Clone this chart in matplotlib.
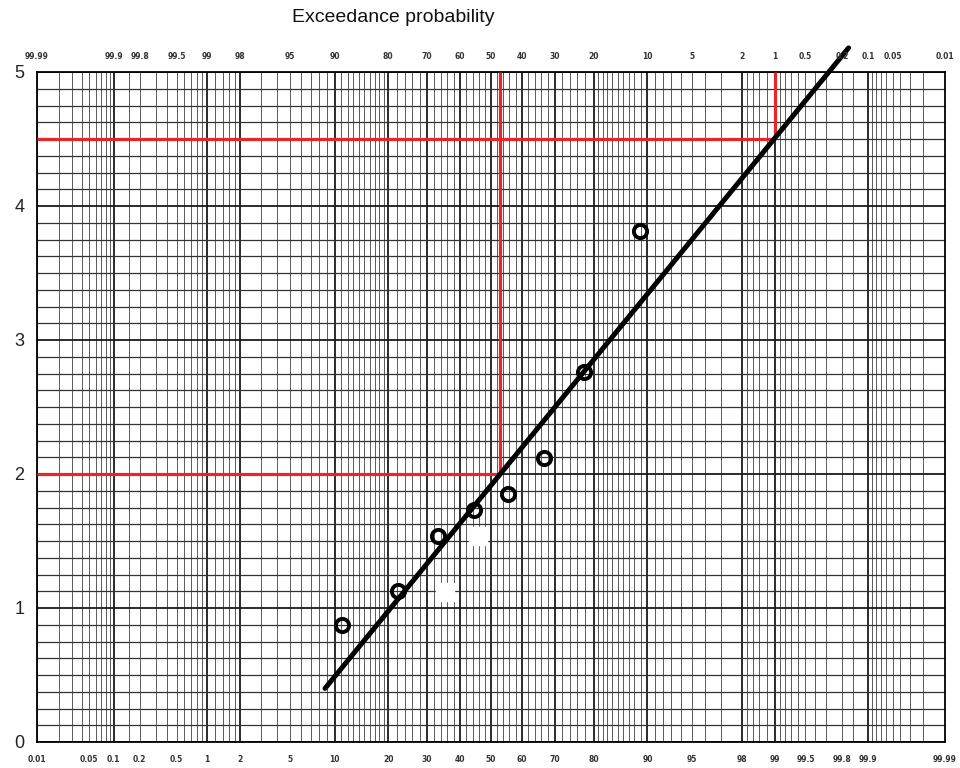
import numpy as np
import matplotlib
matplotlib.use("Agg")
import matplotlib.pyplot as plt
from statistics import NormalDist

# ---- data -------------------------------------------------------------
# non-exceedance probability (%) of the plotted observations
obs_p = [11.1, 22.2, 33.3, 44.4, 55.6, 66.7, 77.8, 88.9]
obs_y = [0.87, 1.13, 1.54, 1.73, 1.85, 2.12, 2.76, 3.81]

# erased marks (white patches on the scan)
erased_p = [35.3, 45.7]
erased_y = [1.12, 1.54]

# fitted straight line (end points)
fit_p = [8.7, 99.83]
fit_y = [0.40, 5.18]

# red read-off lines: level and probability where it meets the fit line
red_y = [2.0, 4.5]
red_p = [52.9, 99.0]

# tick labels
bottom_labels = [0.01, 0.05, 0.1, 0.2, 0.5, 1, 2, 5, 10, 20, 30, 40, 50,
                 60, 70, 80, 90, 95, 98, 99, 99.5, 99.8, 99.9, 99.99]
top_labels = [99.99, 99.9, 99.8, 99.5, 99, 98, 95, 90, 80, 70, 60, 50,
              40, 30, 20, 10, 5, 2, 1, 0.5, 0.2, 0.1, 0.05, 0.01]
y_ticks = [0, 1, 2, 3, 4, 5]

# probability-paper vertical rulings (%)
grid_p = (list(np.round(np.arange(0.01, 0.1001, 0.01), 2)) +
          [0.15, 0.2, 0.3, 0.4, 0.5, 0.6, 0.7, 0.8, 0.9, 1.0] +
          [1.2, 1.4, 1.6, 1.8, 2.0] +
          list(range(3, 10)) + list(range(10, 20)) +
          list(range(20, 80, 2)) + list(range(80, 90)) + list(range(90, 99)) +
          [98.2, 98.4, 98.6, 98.8, 99.0] +
          [99.1, 99.2, 99.3, 99.4, 99.5, 99.6, 99.7, 99.8, 99.85] +
          list(np.round(np.arange(99.9, 99.991, 0.01), 2)))
heavy_p = [0.1, 1, 2, 10, 20, 30, 40, 50, 60, 70, 80, 90, 98, 99, 99.9]

# ---- normal probability scale -----------------------------------------
nd = NormalDist()


def fwd(p):
    a = np.clip(np.asarray(p, dtype=float), 1e-7, 100 - 1e-7)
    out = np.array([nd.inv_cdf(v / 100.0) if np.isfinite(v) else np.nan
                    for v in a.ravel()])
    return out.reshape(a.shape)


def inv(z):
    a = np.asarray(z, dtype=float)
    out = np.array([nd.cdf(v) * 100.0 if np.isfinite(v) else np.nan
                    for v in a.ravel()])
    return out.reshape(a.shape)


fig = plt.figure(figsize=(9.6, 7.68), dpi=100)
ax = fig.add_axes([37 / 960, 1 - 742 / 768, (945 - 37) / 960, (742 - 72) / 768])
ax.set_xscale('function', functions=(fwd, inv))
ax.set_xlim(0.01, 99.99)
ax.set_ylim(0, 5)

# rulings
for p in grid_p:
    hv = any(abs(p - h) < 1e-9 for h in heavy_p)
    ax.axvline(p, color='#1a1a1a' if hv else '#5a5a5a',
               lw=1.3 if hv else 0.7, zorder=1)
for yv in np.arange(0, 5.001, 0.125):
    ax.axhline(yv, color='#1a1a1a' if abs(yv - round(yv)) < 1e-9 else '#333333',
               lw=1.3 if abs(yv - round(yv)) < 1e-9 else 0.9, zorder=1)

# red read-off lines
for yv, pv in zip(red_y, red_p):
    ax.plot([0.01, pv], [yv, yv], color='#e8262a', lw=2.3, zorder=3,
            solid_capstyle='butt')
    ax.plot([pv, pv], [yv, 5], color='#e8262a', lw=2.3, zorder=3,
            solid_capstyle='butt')

# erased patches
ax.plot(erased_p, erased_y, linestyle='none', marker='s', markersize=13,
        markerfacecolor='white', markeredgecolor='white', zorder=4)

# fit line
ax.plot(fit_p, fit_y, color='black', lw=3.6, solid_capstyle='round',
        zorder=5, clip_on=False)

# observations
ax.plot(obs_p, obs_y, linestyle='none', marker='o', markersize=9.5,
        markerfacecolor='none', markeredgecolor='black',
        markeredgewidth=2.8, zorder=6)

for s in ax.spines.values():
    s.set_color('black')
    s.set_linewidth(1.3)

tick_font = dict(fontsize=5.5, fontweight='bold', color='#333333',
                 family='DejaVu Sans')

ax.set_xticks(bottom_labels)
ax.set_xticklabels([f"{v:g}" for v in bottom_labels], **tick_font)
ax.set_xticks([], minor=True)
ax.tick_params(axis='x', length=0, pad=9)

ax.set_yticks(y_ticks)
ax.set_yticklabels([str(v) for v in y_ticks], fontsize=13,
                   family='Liberation Sans', color='#222222')
ax.tick_params(axis='y', length=0, pad=9)

# top axis: exceedance probability on the same normal scale
ax2 = ax.twiny()
ax2.set_xscale('function', functions=(fwd, inv))
ax2.set_xlim(ax.get_xlim())
ax2.set_xticks([100 - v for v in top_labels])
ax2.set_xticklabels([f"{v:g}" for v in top_labels], **tick_font)
ax2.set_xticks([], minor=True)
ax2.tick_params(axis='x', length=0, pad=8)
for s in ax2.spines.values():
    s.set_visible(False)
ax2.set_zorder(ax.get_zorder() + 1)
ax2.patch.set_visible(False)

fig.text(393 / 960, 1 - 17 / 768, 'Exceedance probability', ha='center',
         va='center', fontsize=14, family='Liberation Sans', color='#111111')

fig.savefig('out.png', dpi=100, facecolor='white')
